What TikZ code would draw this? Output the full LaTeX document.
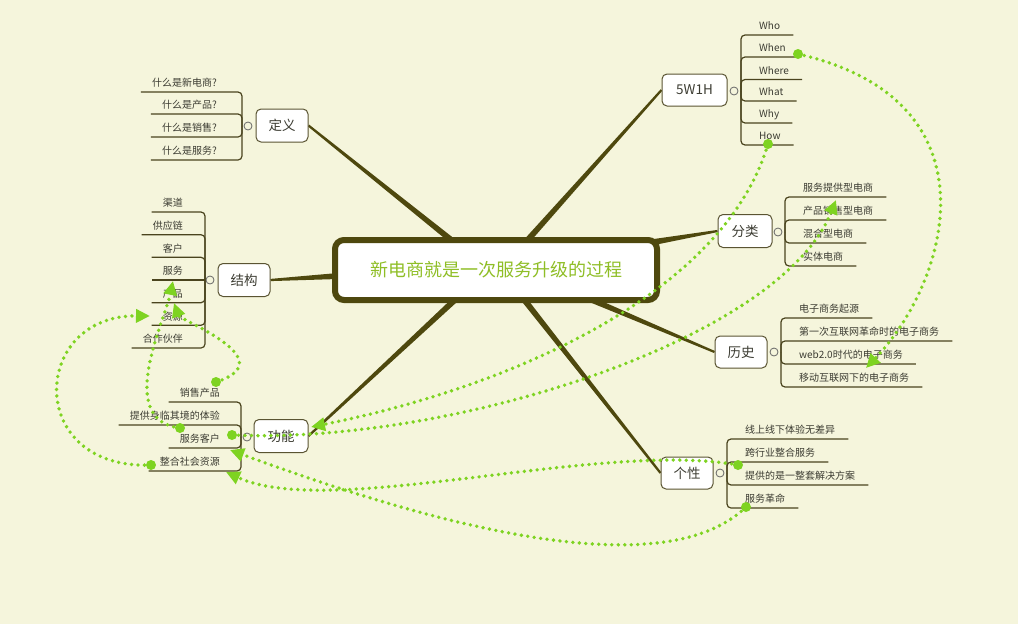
\documentclass[tikz,border=0pt]{standalone}
\usepackage{fontspec}
\setmainfont{Noto Sans CJK SC}
\usetikzlibrary{arrows.meta,calc}
\definecolor{bgc}{RGB}{245,245,220}
\definecolor{olivec}{RGB}{78,72,14}
\definecolor{twigc}{RGB}{74,68,30}
\definecolor{relc}{RGB}{126,211,33}
\definecolor{ctxt}{RGB}{143,190,38}
\definecolor{txtc}{RGB}{60,60,50}
\definecolor{boxc}{RGB}{90,84,50}
\pgfdeclarelayer{back}
\pgfdeclarelayer{branch}
\pgfsetlayers{back,branch,main}
\tikzset{
 topic/.style={draw=boxc, line width=1pt, fill=white, rounded corners=5pt, inner sep=0pt, font=\fontsize{13.5}{16}\selectfont, text=txtc},
 leaf/.style={inner xsep=0pt, inner ysep=3pt, text height=8pt, text depth=2pt, font=\fontsize{10}{12}\selectfont, text=txtc},
 twig/.style={draw=twigc, line width=1.2pt, rounded corners=4pt},
 marker/.style={circle, draw=black!60, fill=bgc, line width=0.8pt, minimum size=8pt, inner sep=0pt},
 relline/.style={draw=relc, line width=3.8pt, dash pattern=on 0pt off 6.5pt, line cap=round, -{Triangle[length=14pt,width=13pt]}},
}
\newcommand\branchtaper[2]{\fill[olivec] ($(#1)!3pt!90:(#2)$) -- ($(#2)!1.1pt!-90:(#1)$) -- ($(#2)!1.1pt!90:(#1)$) -- ($(#1)!3pt!-90:(#2)$) -- cycle;}
\newcommand\leafR[5]{%
  \node[leaf,anchor=south west] (#1) at (#3,#4) {#5};
  \draw[twig] (#2) |- (#1.south west) -- (#1.south east) -- ++(13,0);}
\newcommand\leafL[5]{%
  \node[leaf,anchor=south east] (#1) at (#3,#4) {#5};
  \draw[twig] (#2) |- (#1.south east) -- (#1.south west) -- ++(-11,0);}
\begin{document}
\begin{tikzpicture}[x=1pt,y=-1pt]
\begin{pgfonlayer}{back}
\fill[bgc] (0,0) rectangle (1018,624);
\end{pgfonlayer}
\useasboundingbox (0,0) rectangle (1018,624);

% central topic
\node[draw=olivec, line width=6pt, fill=white, rounded corners=9pt, minimum width=322pt, minimum height=60pt, inner sep=0pt, font=\fontsize{18}{20}\selectfont, text=ctxt] (ctr) at (496,270) {新电商就是一次服务升级的过程};

% main topics
\node[topic, minimum width=52pt, minimum height=33pt] (def) at (282,125.5) {定义};
\node[topic, minimum width=65pt, minimum height=32pt] (w5) at (694.5,90) {5W1H};
\node[topic, minimum width=54pt, minimum height=33pt] (fen) at (745,231) {分类};
\node[topic, minimum width=52pt, minimum height=32pt] (his) at (741,352) {历史};
\node[topic, minimum width=52pt, minimum height=32pt] (ind) at (687,473) {个性};
\node[topic, minimum width=54pt, minimum height=33pt] (fun) at (281,436) {功能};
\node[topic, minimum width=52pt, minimum height=33pt] (jie) at (244,280) {结构};

% branch start points (under the central border)
\coordinate (sdef) at (455,243);
\coordinate (sw5) at (525,243);
\coordinate (sfen) at (654,242);
\coordinate (shis) at (585,297);
\coordinate (sind) at (522,297);
\coordinate (sfun) at (458,297);
\coordinate (sjie) at (338,276);
\begin{pgfonlayer}{branch}
\branchtaper{sdef}{def.east}
\branchtaper{sw5}{w5.west}
\branchtaper{sfen}{fen.west}
\branchtaper{shis}{his.west}
\branchtaper{sind}{ind.west}
\branchtaper{sfun}{fun.east}
\branchtaper{sjie}{jie.east}
\end{pgfonlayer}

% markers and vertical origins
\node[marker] (mdef) at (248,126) {};  \coordinate (vdef) at (242,126);
\node[marker] (mjie) at (210,280) {};  \coordinate (vjie) at (205,280);
\node[marker] (mfun) at (247,437) {};  \coordinate (vfun) at (241,437);
\node[marker] (mw5) at (734,91) {};    \coordinate (vw5) at (741,91);
\node[marker] (mfen) at (778,232) {};  \coordinate (vfen) at (785,232);
\node[marker] (mhis) at (774,352) {};  \coordinate (vhis) at (781,352);
\node[marker] (mind) at (720,473) {};  \coordinate (vind) at (727,473);

% 定义
\leafL{d1}{vdef}{217}{92}{什么是新电商?}
\leafL{d2}{vdef}{217}{114}{什么是产品?}
\leafL{d3}{vdef}{217}{137}{什么是销售?}
\leafL{d4}{vdef}{217}{160}{什么是服务?}
% 结构
\leafL{j1}{vjie}{183}{212}{渠道}
\leafL{j2}{vjie}{183}{234.7}{供应链}
\leafL{j3}{vjie}{183}{257.3}{客户}
\node[leaf,anchor=south east] (j4) at (183,280) {服务};
\draw[twig] (vjie) -- (j4.south east) -- (j4.south west) -- ++(-11,0);
\leafL{j5}{vjie}{183}{302.7}{产品}
\leafL{j6}{vjie}{183}{325.3}{资源}
\leafL{j7}{vjie}{183}{348}{合作伙伴}
% 功能
\leafL{g1}{vfun}{220}{402}{销售产品}
\leafL{g2}{vfun}{220}{425}{提供身临其境的体验}
\leafL{g3}{vfun}{220}{448}{服务客户}
\leafL{g4}{vfun}{220}{471}{整合社会资源}
% 5W1H
\leafR{w1}{vw5}{759}{35}{Who}
\leafR{w2}{vw5}{759}{57}{When}
\leafR{w3}{vw5}{759}{79.5}{Where}
\leafR{w4}{vw5}{759}{101}{What}
\leafR{w5b}{vw5}{759}{123}{Why}
\leafR{w6}{vw5}{759}{145}{How}
% 分类
\leafR{f1}{vfen}{803}{197}{服务提供型电商}
\leafR{f2}{vfen}{803}{220}{产品销售型电商}
\leafR{f3}{vfen}{803}{243}{混合型电商}
\leafR{f4}{vfen}{803}{266}{实体电商}
% 历史
\leafR{h1}{vhis}{799}{318}{电子商务起源}
\leafR{h2}{vhis}{799}{341}{第一次互联网革命时的电子商务}
\leafR{h3}{vhis}{799}{364}{web2.0时代的电子商务}
\leafR{h4}{vhis}{799}{387}{移动互联网下的电子商务}
% 个性
\leafR{p1}{vind}{745}{439}{线上线下体验无差异}
\leafR{p2}{vind}{745}{462}{跨行业整合服务}
\leafR{p3}{vind}{745}{485}{提供的是一整套解决方案}
\leafR{p4}{vind}{745}{508}{服务革命}

% relationships
\coordinate (rAs) at (798,54);  \coordinate (rAe) at (866,368);
\coordinate (rBs) at (768,144); \coordinate (rBe) at (311,427);
\coordinate (rCs) at (232,435); \coordinate (rCe) at (836,200);
\coordinate (rDs) at (738,465); \coordinate (rDe) at (226,472);
\coordinate (rEs) at (746,507); \coordinate (rEe) at (230,450);
\coordinate (rFs) at (216,382); \coordinate (rFe) at (174,303);
\coordinate (rGs) at (180,428); \coordinate (rGe) at (173,281);
\coordinate (rHs) at (151,465); \coordinate (rHe) at (150,316);
\draw[relline] (rAs) .. controls (1000,100) and (950,280) .. (rAe);
\draw[relline] (rBs) .. controls (725,290) and (520,385) .. (rBe);
\draw[relline] (rCs) .. controls (450,445) and (780,340) .. (rCe);
\draw[relline] (rDs) .. controls (600,440) and (330,520) .. (rDe);
\draw[relline] (rEs) .. controls (660,590) and (420,520) .. (rEe);
\draw[relline] (rFs) .. controls (285,360) and (180,320) .. (rFe);
\draw[relline] (rGs) .. controls (115,420) and (165,320) .. (rGe);
\draw[relline] (rHs) .. controls (25,470) and (30,315) .. (rHe);
\foreach \p in {rAs,rBs,rCs,rDs,rEs,rFs,rGs,rHs} \fill[relc] (\p) circle (5pt);
\end{tikzpicture}
\end{document}
